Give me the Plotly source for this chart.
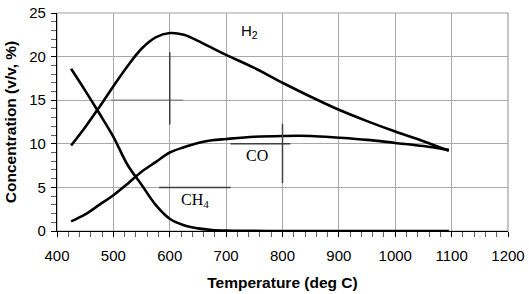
import plotly.graph_objects as go

# Temperature (deg C)
temp = [425, 450, 475, 500, 525, 550, 575, 600, 625, 650, 675, 700, 750, 800,
        850, 900, 950, 1000, 1050, 1095]
# Concentrations (v/v, %)
h2 = [9.8, 11.9, 14.2, 16.6, 18.9, 20.9, 22.2, 22.7, 22.5, 21.8, 21.0, 20.2, 18.7,
      17.0, 15.4, 13.9, 12.6, 11.4, 10.3, 9.2]
co = [1.1, 1.9, 3.0, 4.1, 5.4, 6.8, 7.9, 9.0, 9.6, 10.1, 10.4, 10.55, 10.8, 10.9,
      10.9, 10.7, 10.45, 10.1, 9.75, 9.3]
ch4 = [18.6, 16.1, 13.5, 10.8, 7.6, 5.3, 3.0, 1.4, 0.65, 0.3, 0.12, 0.05, 0.02, 0.0,
       0.0, 0.0, 0.0, 0.0, 0.0, 0.0]

# label annotations (text, x, y, font family, size)
labels = [("H<sub>2</sub>", 741, 22.9, "Liberation Sans", 15),
          ("CO", 754, 8.7, "Liberation Serif", 16),
          ("CH<sub>4</sub>", 644, 3.5, "Liberation Serif", 16)]
# marker lines (x0, y0, x1, y1, color)
marks = [(496, 15, 624, 15, "#8a8a8a"),
         (600, 12.2, 600, 20.5, "#404040"),
         (708, 10, 814, 10, "#404040"),
         (800, 5.5, 800, 12.3, "#404040"),
         (581, 5, 708, 5, "#404040")]

fig = go.Figure()
for ys in (h2, co, ch4):
    fig.add_trace(go.Scatter(x=temp, y=ys, mode="lines",
                             line=dict(color="black", width=2.6, shape="spline", smoothing=1.0),
                             showlegend=False, hoverinfo="skip"))

for (x0, y0, x1, y1, c) in marks:
    fig.add_shape(type="line", x0=x0, y0=y0, x1=x1, y1=y1, xref="x", yref="y",
                  line=dict(color=c, width=1.5))

fig.add_shape(type="rect", xref="paper", yref="paper", x0=0, y0=0, x1=1, y1=1,
              line=dict(color="#a0a0a0", width=1.2), layer="below")

for (t, x, y, fam, sz) in labels:
    fig.add_annotation(text=t, x=x, y=y, xref="x", yref="y", showarrow=False,
                       font=dict(family=fam, size=sz, color="black"))

fig.update_layout(
    width=529, height=294,
    margin=dict(l=57, r=21, t=13, b=63, autoexpand=False),
    paper_bgcolor="white", plot_bgcolor="white",
    font=dict(family="Liberation Sans", size=15, color="black"),
)
fig.update_xaxes(range=[400, 1200], dtick=100, showgrid=True, gridcolor="#a8a8a8", gridwidth=1,
                 showline=True, linecolor="black", linewidth=1.2, zeroline=False,
                 ticks="outside", ticklen=5, tickcolor="black", ticklabelstandoff=6,
                 minor=dict(dtick=20, ticks="outside", ticklen=5, tickcolor="#606060", showgrid=False),
                 title=dict(text="<b>Temperature (deg C)</b>", font=dict(size=15.5), standoff=14))
fig.update_yaxes(range=[0, 25], dtick=5, showgrid=True, gridcolor="#a8a8a8", gridwidth=1,
                 showline=True, linecolor="black", linewidth=1.2, zeroline=False,
                 ticks="outside", ticklen=5, tickcolor="black", ticklabelstandoff=2,
                 minor=dict(dtick=1, ticks="outside", ticklen=5, tickcolor="#606060", showgrid=False),
                 title=dict(text="<b>Concentration (v/v, %)</b>", font=dict(size=15.5), standoff=8))

fig.write_html("out.html", config={"displayModeBar": False},
               post_script="document.body.style.margin='0';window.dispatchEvent(new Event('resize'));")
